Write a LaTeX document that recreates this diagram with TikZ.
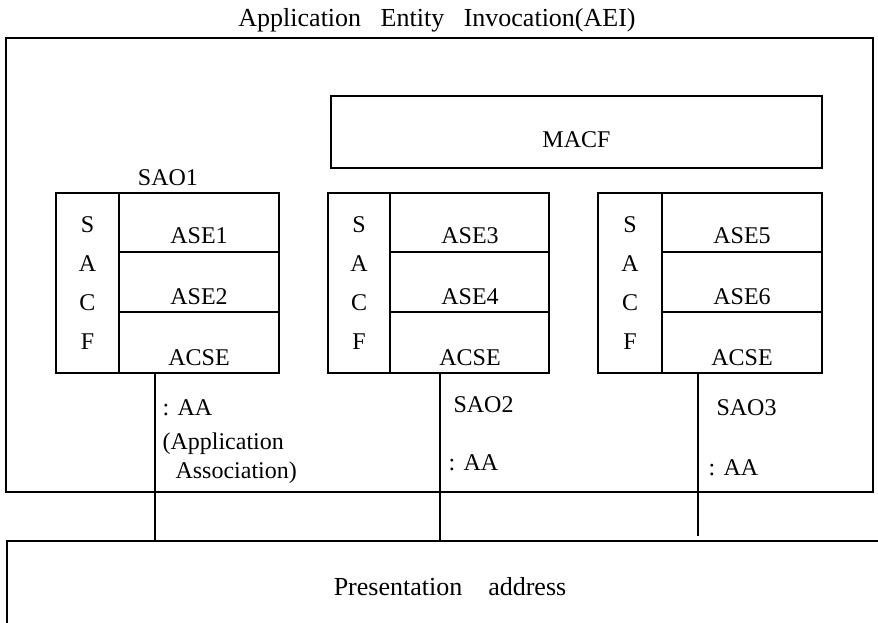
\documentclass[tikz,border=0pt]{standalone}
\usepackage{fontspec}
\setmainfont{Liberation Serif}
\begin{document}
\begin{tikzpicture}[x=1pt,y=-1pt,line width=1.1pt,
 blk/.style={draw,anchor=north west,inner sep=0pt,outer sep=0pt},
 txt/.style={anchor=base,inner sep=0pt,font=\fontsize{24}{28}\selectfont},
 lft/.style={txt,anchor=base west},
 big/.style={txt,font=\fontsize{26}{30}\selectfont},
 sacf/.style={blk,minimum width=63pt,minimum height=180pt,align=center,font=\fontsize{24}{39}\selectfont}]
 \clip (0,0) rectangle (878,622);
 \node[big] (aeitxt) at (437,26) {Application\hspace{.75em}Entity\hspace{.75em}Invocation(AEI)};
 \node[blk,minimum width=867pt,minimum height=454pt] (aei) at (6,38) {};
 \node[blk,minimum width=491pt,minimum height=72pt] (macf) at (331,96) {};
 \node[txt] (macftxt) at (576.5,147) {MACF};
 \node[txt] (sao1lbl) at (168,185) {SAO1};
 \node[blk,minimum width=223pt,minimum height=180pt] (sao1) at (56,193) {};
 \node[sacf] (sacf1) at (56,193) {S\\A\\C\\F};
 \draw (119,252)--(279,252);
 \draw (119,312)--(279,312);
 \node[txt] (ase1) at (199,243) {ASE1};
 \node[txt] (ase2) at (199,304) {ASE2};
 \node[txt] (acse1) at (199,365) {ACSE};
 \node[blk,minimum width=221pt,minimum height=180pt] (sao2) at (328,193) {};
 \node[sacf,minimum width=62pt] (sacf2) at (328,193) {S\\A\\C\\F};
 \draw (390,252)--(549,252);
 \draw (390,312)--(549,312);
 \node[txt] (ase3) at (470,243) {ASE3};
 \node[txt] (ase4) at (470,304) {ASE4};
 \node[txt] (acse2) at (470,365) {ACSE};
 \node[blk,minimum width=224pt,minimum height=180pt] (sao3) at (598,193) {};
 \node[sacf,minimum width=64pt] (sacf3) at (598,193) {S\\A\\C\\F};
 \draw (662,252)--(822,252);
 \draw (662,312)--(822,312);
 \node[txt] (ase5) at (742,243) {ASE5};
 \node[txt] (ase6) at (742,304) {ASE6};
 \node[txt] (acse3) at (742,365) {ACSE};
 \node[blk,minimum width=900pt,minimum height=120pt] (pres) at (7,541) {};
 \node[big] (prestxt) at (450,595) {Presentation\quad address};
 \coordinate (aa1) at (155,373);
 \coordinate (aa2) at (440,373);
 \coordinate (aa3) at (698,373);
 \draw (aa1)--(aa1 |- pres.north);
 \draw (aa2)--(aa2 |- pres.north);
 \draw (aa3)--([yshift=5pt]aa3 |- pres.north);
 \node[lft] (aa1lbl) at (162,415) {:\hspace{.35em}AA};
 \node[lft] (appl) at (162,449) {(Application};
 \node[lft] (assoc) at (175,478) {Association)};
 \node[lft] (sao2lbl) at (453,412) {SAO2};
 \node[lft] (aa2lbl) at (448,470) {:\hspace{.35em}AA};
 \node[lft] (sao3lbl) at (716,415) {SAO3};
 \node[lft] (aa3lbl) at (708,475) {:\hspace{.35em}AA};
\end{tikzpicture}
\end{document}
